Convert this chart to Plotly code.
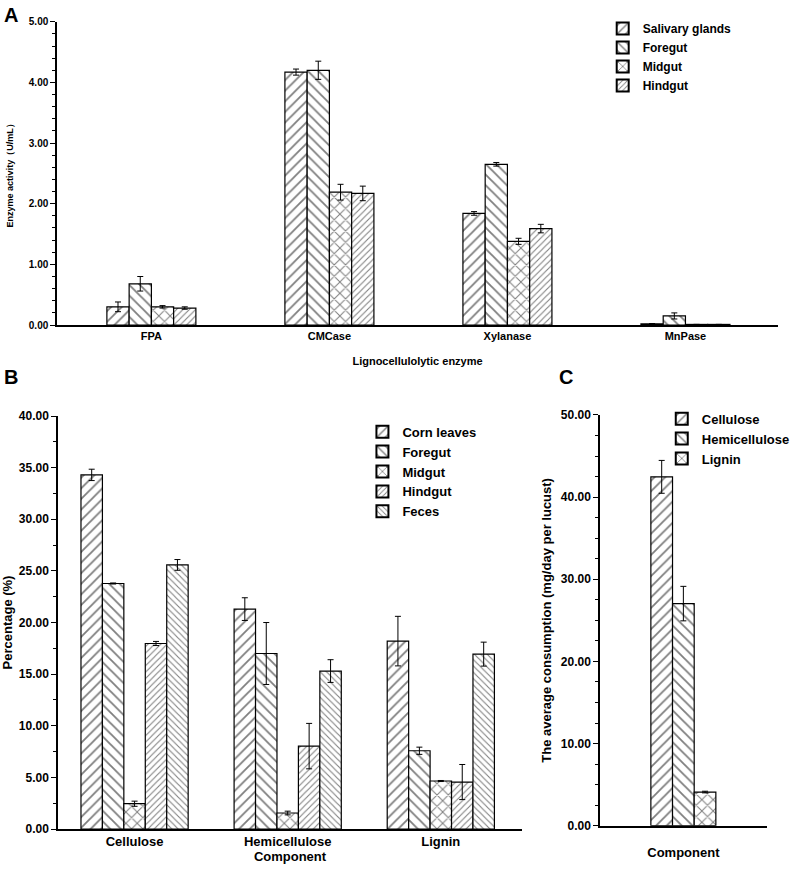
import plotly.graph_objects as go

# ---------------- Panel A data: enzyme activity (U/mL)
enzymes = ['FPA', 'CMCase', 'Xylanase', 'MnPase']
tissues_a = ['Salivary glands', 'Foregut', 'Midgut', 'Hindgut']
salivary = [0.30, 4.17, 1.84, 0.02]
salivary_err = [0.08, 0.05, 0.03, 0.005]
foregut_a = [0.68, 4.20, 2.65, 0.15]
foregut_a_err = [0.12, 0.15, 0.03, 0.05]
midgut_a = [0.30, 2.19, 1.38, 0.01]
midgut_a_err = [0.02, 0.13, 0.05, 0.0]
hindgut_a = [0.28, 2.17, 1.59, 0.01]
hindgut_a_err = [0.02, 0.12, 0.07, 0.0]

# ---------------- Panel B data: percentage (%)
components = ['Cellulose', 'Hemicellulose', 'Lignin']
samples_b = ['Corn leaves', 'Foregut', 'Midgut', 'Hindgut', 'Feces']
corn = [34.3, 21.3, 18.2]
corn_err = [0.55, 1.1, 2.4]
foregut_b = [23.78, 17.0, 7.58]
foregut_b_err = [0.05, 3.0, 0.35]
midgut_b = [2.45, 1.55, 4.65]
midgut_b_err = [0.25, 0.18, 0.05]
hindgut_b = [17.97, 8.03, 4.55]
hindgut_b_err = [0.2, 2.2, 1.7]
feces = [25.58, 15.3, 16.94]
feces_err = [0.52, 1.1, 1.16]

# ---------------- Panel C data: average consumption (mg/day per locust)
parts_c = ['Cellulose', 'Hemicellulose', 'Lignin']
consumption = [42.47, 27.04, 4.1]
consumption_err = [2.0, 2.1, 0.1]

FONT = 'Liberation Sans'

# hatch styles: (shape, size)
hatch_a = [('/', 7.5), ('\\', 7.5), ('x', 8), ('/', 4.5)]
hatch_b = [('/', 7.5), ('\\', 7.5), ('x', 8), ('/', 4.5), ('\\', 4.5)]
hatch_c = [('/', 7.5), ('\\', 7.5), ('x', 8)]


def hatched_bar(x, y, err, name, hatch, xaxis, yaxis, legend):
    shape, size = hatch
    return go.Bar(
        x=x, y=y, name=name,
        xaxis=xaxis, yaxis=yaxis, legend=legend,
        marker=dict(color='white',
                    line=dict(color='black', width=1.2),
                    pattern=dict(shape=shape, size=size, solidity=0.24,
                                 fgcolor='black', bgcolor='white')),
        error_y=dict(type='data', array=err, visible=True,
                     color='black', thickness=1, width=3),
    )


fig = go.Figure()

series_a = [(salivary, salivary_err), (foregut_a, foregut_a_err),
            (midgut_a, midgut_a_err), (hindgut_a, hindgut_a_err)]
for name, (vals, errs), h in zip(tissues_a, series_a, hatch_a):
    fig.add_trace(hatched_bar(enzymes, vals, errs, name, h, 'x', 'y', 'legend'))

# panel B: bars are wider relative to the category than in A
wb = 0.14
series_b = [(corn, corn_err), (foregut_b, foregut_b_err), (midgut_b, midgut_b_err),
            (hindgut_b, hindgut_b_err), (feces, feces_err)]
for i, (name, (vals, errs), h) in enumerate(zip(samples_b, series_b, hatch_b)):
    tr = hatched_bar(components, vals, errs, name, h, 'x2', 'y2', 'legend2')
    tr.update(width=wb, offset=(i - len(samples_b) / 2) * wb)
    fig.add_trace(tr)

# panel C: one category, three touching bars
wc = 0.13
for i, (name, h) in enumerate(zip(parts_c, hatch_c)):
    tr = hatched_bar(['Component'], [consumption[i]], [consumption_err[i]],
                     name, h, 'x3', 'y3', 'legend3')
    tr.update(width=wc, offset=(i - len(parts_c) / 2) * wc)
    fig.add_trace(tr)

tick_font = dict(family=FONT, size=12, color='black', weight='bold')
title_font = dict(family=FONT, size=13, color='black', weight='bold')

yaxis_common = dict(showline=True, linecolor='black', linewidth=1.5,
                    ticks='outside', ticklen=5, tickwidth=1.2, tickcolor='black',
                    tickformat='.2f', showgrid=False, zeroline=False,
                    tickfont=tick_font)
xaxis_common = dict(showline=True, linecolor='black', linewidth=1.5,
                    ticks='', showgrid=False, zeroline=False, tickfont=tick_font)

legend_common = dict(bgcolor='rgba(0,0,0,0)', borderwidth=0, tracegroupgap=0,
                     itemsizing='constant', xanchor='left', yanchor='top')

fig.update_layout(
    width=809, height=870,
    margin=dict(l=0, r=0, t=0, b=0, autoexpand=False),
    paper_bgcolor='white', plot_bgcolor='white',
    barmode='group', bargap=0.5, bargroupgap=0,
    font=dict(family=FONT, color='black'),
    xaxis=dict(xaxis_common, domain=[0.0705, 0.9617], anchor='y',
               range=[-0.53, 3.52], tickfont=dict(tick_font, size=11),
               title=dict(text='Lignocellulolytic enzyme', standoff=16, font=dict(title_font, size=11))),
    yaxis=dict(yaxis_common, domain=[0.6264, 0.975], anchor='x', range=[0, 5],
               dtick=1, minor=dict(ticks='outside', dtick=0.2, ticklen=3, tickcolor='black'),
               tickfont=dict(tick_font, size=10),
               title=dict(text='Enzyme activity（U/mL）', standoff=14, font=dict(title_font, size=9))),
    xaxis2=dict(xaxis_common, domain=[0.0717, 0.6452], anchor='y2',
                range=[-0.5, 2.53], tickfont=dict(tick_font, size=13),
                title=dict(text='Component', standoff=3, font=dict(title_font, size=13))),
    yaxis2=dict(yaxis_common, domain=[0.0471, 0.5218], anchor='x2', range=[0, 40],
                dtick=5, minor=dict(ticks='outside', dtick=2.5, ticklen=3, tickcolor='black'),
                title=dict(text='Percentage (%)', standoff=6, font=dict(title_font, size=13))),
    xaxis3=dict(xaxis_common, domain=[0.7417, 0.9477], anchor='y3',
                range=[-0.5, 0.5], showticklabels=False,
                title=dict(text='Component', standoff=21, font=dict(title_font, size=13))),
    yaxis3=dict(yaxis_common, domain=[0.0509, 0.523], anchor='x3', range=[0, 50],
                dtick=10, minor=dict(ticks='outside', dtick=2.5, ticklen=3, tickcolor='black'),
                title=dict(text='The average consumption (mg/day per lucust)', standoff=6,
                           font=dict(title_font, size=13))),
    legend=dict(legend_common, x=0.745, y=0.984, font=dict(family=FONT, size=12, weight='bold')),
    legend2=dict(legend_common, x=0.448, y=0.521, font=dict(family=FONT, size=13, weight='bold')),
    legend3=dict(legend_common, x=0.818, y=0.536, font=dict(family=FONT, size=13, weight='bold')),
    annotations=[
        dict(text='A', x=0.003, y=0.998, xref='paper', yref='paper', xanchor='left', yanchor='top',
             showarrow=False, font=dict(family=FONT, size=20, weight='bold')),
        dict(text='B', x=0.003, y=0.582, xref='paper', yref='paper', xanchor='left', yanchor='top',
             showarrow=False, font=dict(family=FONT, size=20, weight='bold')),
        dict(text='C', x=0.688, y=0.582, xref='paper', yref='paper', xanchor='left', yanchor='top',
             showarrow=False, font=dict(family=FONT, size=20, weight='bold')),
    ],
)

# drop the browser's default page margin so the figure fills the window
fig.write_html("out.html", config={'displayModeBar': False},
               post_script="document.body.style.margin = '0';")
